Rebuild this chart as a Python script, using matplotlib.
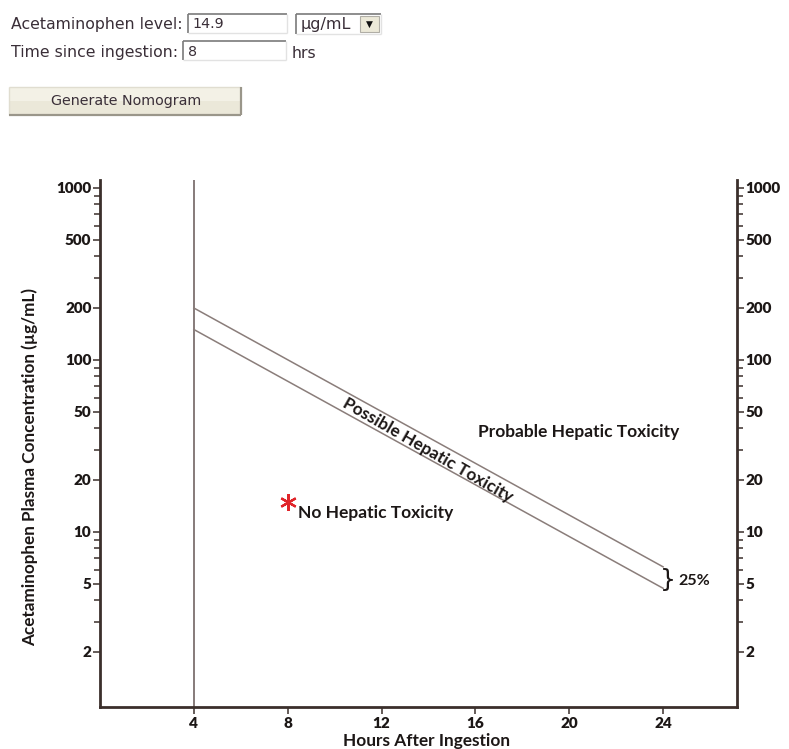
import matplotlib
matplotlib.use("Agg")
import matplotlib.pyplot as plt
from matplotlib.patches import Rectangle
from matplotlib.lines import Line2D
from matplotlib.ticker import FixedLocator, FuncFormatter, NullLocator
import numpy as np

# ---------------- data ----------------
acetaminophen_level = 14.9
hours_since_ingestion = 8
level_unit = "µg/mL"
nomogram_hours = [4, 24]
upper_line_values = [200, 6.25]
lower_line_values = [150, 4.69]
x_ticks = [4, 8, 12, 16, 20, 24]
y_major_ticks = [2, 5, 10, 20, 50, 100, 200, 500, 1000]
y_minor_ticks = [3, 4, 6, 7, 8, 9, 30, 40, 60, 70, 80, 90,
                 300, 400, 600, 700, 800, 900]
label_probable = "Probable Hepatic Toxicity"
label_possible = "Possible Hepatic Toxicity"
label_none = "No Hepatic Toxicity"
band_label = "25%"

# ---------------- style ----------------
W, H = 789, 749
chart_font = "Lato"
form_font = "DejaVu Sans"
axis_color = "#3b2f2b"
line_color = "#8a7d7a"
text_color = "#1c1716"
form_color = "#3a2f38"

fig = plt.figure(figsize=(W / 100, H / 100), dpi=100)
fig.patch.set_facecolor("white")


def fx(px):
    return px / W


def fy(py):
    return 1 - py / H


def hline(x0, x1, y, color, lw):
    fig.add_artist(Line2D([fx(x0), fx(x1)], [fy(y), fy(y)], color=color, lw=lw,
                          transform=fig.transFigure, solid_capstyle="butt"))


def vline(x, y0, y1, color, lw):
    fig.add_artist(Line2D([fx(x), fx(x)], [fy(y0), fy(y1)], color=color, lw=lw,
                          transform=fig.transFigure, solid_capstyle="butt"))


def inset_box(x0, y0, x1, y1):
    fig.add_artist(Rectangle((fx(x0), fy(y1)), (x1 - x0) / W, (y1 - y0) / H,
                             transform=fig.transFigure, fc="white", ec="none"))
    hline(x0, x1, y0, "#7a7a7a", 1.2)
    vline(x0, y0, y1, "#7a7a7a", 1.2)
    hline(x0, x1, y1, "#e2e2e2", 1.0)
    vline(x1, y0, y1, "#e2e2e2", 1.0)


# ---------------- form ----------------
fig.text(fx(11), fy(24), "Acetaminophen level:", fontsize=11.3, family=form_font,
         color=form_color, va="center", ha="left")
inset_box(188, 14, 287, 33)
fig.text(fx(192), fy(24), f"{acetaminophen_level}", fontsize=10.3, family=form_font,
         color=form_color, va="center", ha="left")
inset_box(296, 14, 381, 34)
fig.text(fx(301), fy(24), level_unit, fontsize=11.5, family=form_font,
         color=form_color, va="center", ha="left")
fig.add_artist(Rectangle((fx(360), fy(32)), 19 / W, 16 / H, transform=fig.transFigure,
                         fc="#ece9d8", ec="#b0aea6", lw=0.8))
fig.text(fx(369.5), fy(24), "▼", fontsize=6.5, family=form_font, color="#111111",
         va="center", ha="center")

fig.text(fx(11), fy(53), "Time since ingestion:", fontsize=11.3, family=form_font,
         color=form_color, va="center", ha="left")
inset_box(183, 41, 286, 60)
fig.text(fx(188), fy(52), f"{hours_since_ingestion}", fontsize=10.3, family=form_font,
         color=form_color, va="center", ha="left")
fig.text(fx(292), fy(53), "hrs", fontsize=11.3, family=form_font,
         color=form_color, va="center", ha="left")

# button
fig.add_artist(Rectangle((fx(9), fy(115)), (241 - 9) / W, (115 - 87) / H,
                         transform=fig.transFigure, fc="#ebe8d9", ec="none"))
fig.add_artist(Rectangle((fx(9), fy(101)), (241 - 9) / W, (101 - 87) / H,
                         transform=fig.transFigure, fc="#f3f1e6", ec="none"))
hline(9, 241, 87, "#e0ddd0", 1.0)
vline(9, 87, 115, "#e0ddd0", 1.0)
hline(9, 241, 115, "#9a968a", 1.6)
vline(241, 87, 115, "#9a968a", 1.6)
fig.text(fx(126), fy(101), "Generate Nomogram", fontsize=10.3, family=form_font,
         color=form_color, va="center", ha="center")

# ---------------- chart ----------------
ax = fig.add_axes([fx(100), fy(707), (737 - 100) / W, (707 - 180) / H])
ax.set_facecolor("white")
ax.set_yscale("log")
ax.set_xlim(0, 27.15)
ax.set_ylim(0.957, 1110)

for side in ("left", "right", "bottom"):
    ax.spines[side].set_color(axis_color)
    ax.spines[side].set_linewidth(2.0)
ax.spines["top"].set_visible(False)

ax.xaxis.set_major_locator(FixedLocator(x_ticks))
ax.xaxis.set_minor_locator(NullLocator())
ax.yaxis.set_major_locator(FixedLocator(y_major_ticks))
ax.yaxis.set_minor_locator(FixedLocator(y_minor_ticks))
ax.yaxis.set_major_formatter(FuncFormatter(lambda v, p: f"{int(round(v))}"))
ax.yaxis.set_minor_formatter(FuncFormatter(lambda v, p: ""))

ax.tick_params(axis="both", which="both", direction="out", color=axis_color,
               labelcolor=text_color)
ax.tick_params(axis="y", which="major", length=5.2, width=1.1, pad=1.0,
               left=True, right=True, labelleft=True, labelright=True)
ax.tick_params(axis="y", which="minor", length=4.0, width=1.1,
               left=True, right=True)
ax.tick_params(axis="x", which="major", length=5.0, width=1.1, pad=2.5)
for lab in ax.get_xticklabels() + ax.get_yticklabels():
    lab.set_fontfamily(chart_font)
    lab.set_fontweight("heavy")
    lab.set_fontsize(11)

ax.set_xlabel("Hours After Ingestion", fontfamily=chart_font, fontweight="bold",
              fontsize=12.4, color=text_color)
ax.xaxis.set_label_coords((427 - 100) / 637, (707 - 733) / 527)
ax.set_ylabel("Acetaminophen Plasma Concentration (µg/mL)", fontfamily=chart_font,
              fontweight="bold", fontsize=12.3, color=text_color)
ax.yaxis.set_label_coords((38 - 100) / 637, (707 - 467) / 527)

# 4-hour reference line
ax.axvline(nomogram_hours[0], color="#7d7170", lw=1.3, zorder=2)

# nomogram lines
ax.plot(nomogram_hours, upper_line_values, color=line_color, lw=1.1, zorder=3)
ax.plot(nomogram_hours, lower_line_values, color=line_color, lw=1.1, zorder=3)

# patient point
ax.plot([hours_since_ingestion], [acetaminophen_level], linestyle="none",
        marker=(6, 2, 0), markersize=12, markeredgewidth=1.6, color="#e0252a",
        zorder=5)
ax.annotate(label_none, (hours_since_ingestion, acetaminophen_level),
            xytext=(7.5, -8), textcoords="offset points", ha="left", va="center",
            fontfamily=chart_font, fontweight="bold", fontsize=12.5, color=text_color)

# probable region label
ax.text(20.4, 37.8, label_probable, ha="center", va="center",
        fontfamily=chart_font, fontweight="bold", fontsize=12.5, color=text_color)

# possible region label along the band
mid_h = 13.95
up_mid = 10 ** np.interp(mid_h, nomogram_hours, np.log10(upper_line_values))
lo_mid = 10 ** np.interp(mid_h, nomogram_hours, np.log10(lower_line_values))
mid_val = np.sqrt(up_mid * lo_mid) * 0.96
p0 = ax.transData.transform((nomogram_hours[0], upper_line_values[0]))
p1 = ax.transData.transform((nomogram_hours[1], upper_line_values[1]))
angle = np.degrees(np.arctan2(p1[1] - p0[1], p1[0] - p0[0])) - 1.0
ax.text(mid_h, mid_val, label_possible, ha="center", va="center",
        rotation=angle, rotation_mode="anchor",
        fontfamily=chart_font, fontweight="bold", fontsize=12.3, color=text_color)

# 25% brace
brace_val = np.sqrt(upper_line_values[1] * lower_line_values[1])
ax.text(24.2, brace_val * 0.97, "}", ha="center", va="center",
        fontfamily="DejaVu Sans", fontsize=18, color=text_color)
ax.text(24.65, brace_val * 0.95, band_label, ha="left", va="center",
        fontfamily=chart_font, fontweight="bold", fontsize=11.5, color=text_color)

fig.savefig("out.png", dpi=100, facecolor="white")
